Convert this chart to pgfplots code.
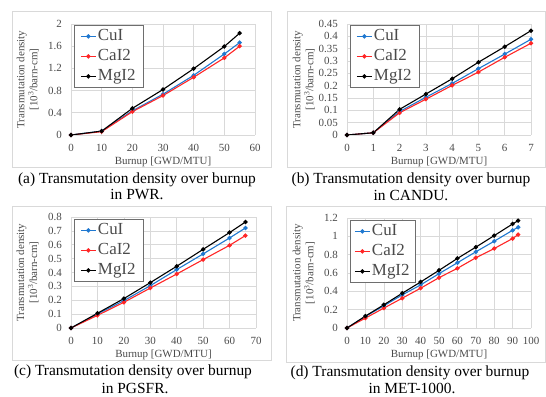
\documentclass[border=0pt]{standalone}
\usepackage{fontspec}
\setmainfont{Liberation Serif}
\usepackage{pgfplots}
\pgfplotsset{compat=1.18}
\definecolor{cublue}{HTML}{1F78D0}
\definecolor{cared}{HTML}{FF2626}
\definecolor{gridgray}{HTML}{D9D9D9}
\definecolor{txtgray}{HTML}{4A4A4A}
\definecolor{leggray}{HTML}{6E6E6E}
\pgfplotsset{
 panel/.style={
  scale only axis,
  width=184bp, height=111bp,
  anchor=south west,
  axis line style={draw=none},
  major tick length=0pt,
  grid=major,
  major grid style={gridgray, line width=0.6bp},
  tick label style={font=\fontsize{11}{13}\selectfont, text=txtgray},
  /pgf/number format/assume math mode=true,
  /pgf/number format/fixed,
  /pgf/number format/precision=2,
  xticklabel style={anchor=center, yshift=-13bp},
  yticklabel style={anchor=east, inner sep=0pt, xshift=-9bp},
  xlabel={Burnup [GWD/MTU]},
  ylabel={Transmutation density\\ {[}10\textsuperscript{3}/barn-cm{]}},
  xlabel style={at={(axis description cs:0.5,0)}, anchor=center, yshift=-27bp, font=\fontsize{11}{13}\selectfont, text=txtgray},
  ylabel style={at={(axis description cs:-0.235,0.5)}, anchor=center, align=center, font=\fontsize{11}{13}\selectfont, text=txtgray},
  legend style={anchor=north west, draw=leggray, line width=0.8bp, fill=white,
    font=\fontsize{17}{20}\selectfont, text=txtgray, inner xsep=6bp, inner ysep=1bp,
    nodes={inner sep=1.5bp, text height=13bp, text depth=4bp},
    /tikz/every even column/.append style={column sep=2bp}},
  legend cell align=left,
  legend image code/.code={\draw[mark repeat=2,mark phase=2,##1] plot coordinates {(0bp,0bp)(7.5bp,0bp)(15bp,0bp)};},
  every axis plot/.append style={line width=1.1bp, mark=*, mark size=1.6bp},
 }
}
\begin{document}
\begin{tikzpicture}[x=1bp,y=1bp]
\path[use as bounding box] (0,0) rectangle (546,396);
% frames
\draw[gridgray, line width=0.75bp] (12,229) rectangle (271,385);
\draw[gridgray, line width=0.75bp] (287,229) rectangle (545,385);
\draw[gridgray, line width=0.75bp] (12,36) rectangle (271,190);
\draw[gridgray, line width=0.75bp] (286,34) rectangle (545,190);

% (a) PWR
\begin{axis}[panel, at={(71bp,261bp)}, xmin=0, xmax=60, ymin=0, ymax=2,
  xtick={0,10,...,60}, ytick={0,0.4,0.8,1.2,1.6,2},
  legend style={at={(axis description cs:0.016,0.991)}}]
\addplot[cublue] coordinates {(0,0)(10,0.07)(20,0.435)(30,0.735)(40,1.075)(50,1.46)(55,1.665)};
\addplot[cared] coordinates {(0,0)(10,0.06)(20,0.42)(30,0.71)(40,1.04)(50,1.39)(55,1.60)};
\addplot[black] coordinates {(0,0)(10,0.07)(20,0.48)(30,0.82)(40,1.195)(50,1.595)(55,1.835)};
\legend{CuI,CaI2,MgI2}
\end{axis}

% (b) CANDU
\begin{axis}[panel, at={(347bp,261bp)}, xmin=0, xmax=7, ymin=0, ymax=0.45,
  xtick={0,1,...,7}, ytick={0,0.05,0.1,0.15,0.2,0.25,0.3,0.35,0.4,0.45},
  legend style={at={(axis description cs:0.016,0.991)}}]
\addplot[cublue] coordinates {(0,0)(1,0.009)(2,0.095)(3,0.153)(4,0.209)(5,0.269)(6,0.328)(7,0.388)};
\addplot[cared] coordinates {(0,0)(1,0.009)(2,0.09)(3,0.145)(4,0.201)(5,0.255)(6,0.315)(7,0.372)};
\addplot[black] coordinates {(0,0)(1,0.009)(2,0.104)(3,0.166)(4,0.228)(5,0.295)(6,0.358)(7,0.423)};
\legend{CuI,CaI2,MgI2}
\end{axis}

% (c) PGSFR
\begin{axis}[panel, at={(71bp,68bp)}, width=185bp, xmin=0, xmax=70, ymin=0, ymax=0.8,
  xtick={0,10,...,70}, ytick={0,0.1,0.2,0.3,0.4,0.5,0.6,0.7,0.8},
  legend style={at={(axis description cs:0.016,0.982)}}]
\addplot[cublue] coordinates {(0,0)(10,0.101)(20,0.197)(30,0.305)(40,0.421)(50,0.534)(60,0.649)(66,0.721)};
\addplot[cared] coordinates {(0,0)(10,0.091)(20,0.185)(30,0.288)(40,0.389)(50,0.493)(60,0.596)(66,0.666)};
\addplot[black] coordinates {(0,0)(10,0.106)(20,0.212)(30,0.327)(40,0.445)(50,0.567)(60,0.688)(66,0.764)};
\legend{CuI,CaI2,MgI2}
\end{axis}

% (d) MET-1000
\begin{axis}[panel, at={(347bp,68bp)}, height=110bp, xmin=0, xmax=100, ymin=0, ymax=1.2,
  xtick={0,10,...,100}, ytick={0,0.2,0.4,0.6,0.8,1,1.2},
  legend style={at={(axis description cs:0.016,0.982)}, inner xsep=4bp}]
\addplot[cublue] coordinates {(0,0)(10,0.126)(20,0.242)(30,0.361)(40,0.470)(50,0.593)(60,0.712)(70,0.831)(80,0.947)(90,1.066)(93,1.099)};
\addplot[cared] coordinates {(0,0)(10,0.108)(20,0.217)(30,0.325)(40,0.434)(50,0.549)(60,0.651)(70,0.766)(80,0.867)(90,0.976)(93,1.019)};
\addplot[black] coordinates {(0,0)(10,0.130)(20,0.253)(30,0.379)(40,0.502)(50,0.629)(60,0.759)(70,0.882)(80,1.008)(90,1.135)(93,1.171)};
\legend{CuI,CaI2,MgI2}
\end{axis}

% captions
\begin{scope}[every node/.style={font=\fontsize{15.5}{17}\selectfont, inner sep=0pt}]
\node at (137,216) {(a) Transmutation density over burnup};
\node at (137,201) {in PWR.};
\node at (411,216) {(b) Transmutation density over burnup};
\node at (411,201) {in CANDU.};
\node at (133,24) {(c) Transmutation density over burnup};
\node at (135,8) {in PGSFR.};
\node at (410,23) {(d) Transmutation density over burnup};
\node at (412,8) {in MET-1000.};
\end{scope}
\end{tikzpicture}
\end{document}
